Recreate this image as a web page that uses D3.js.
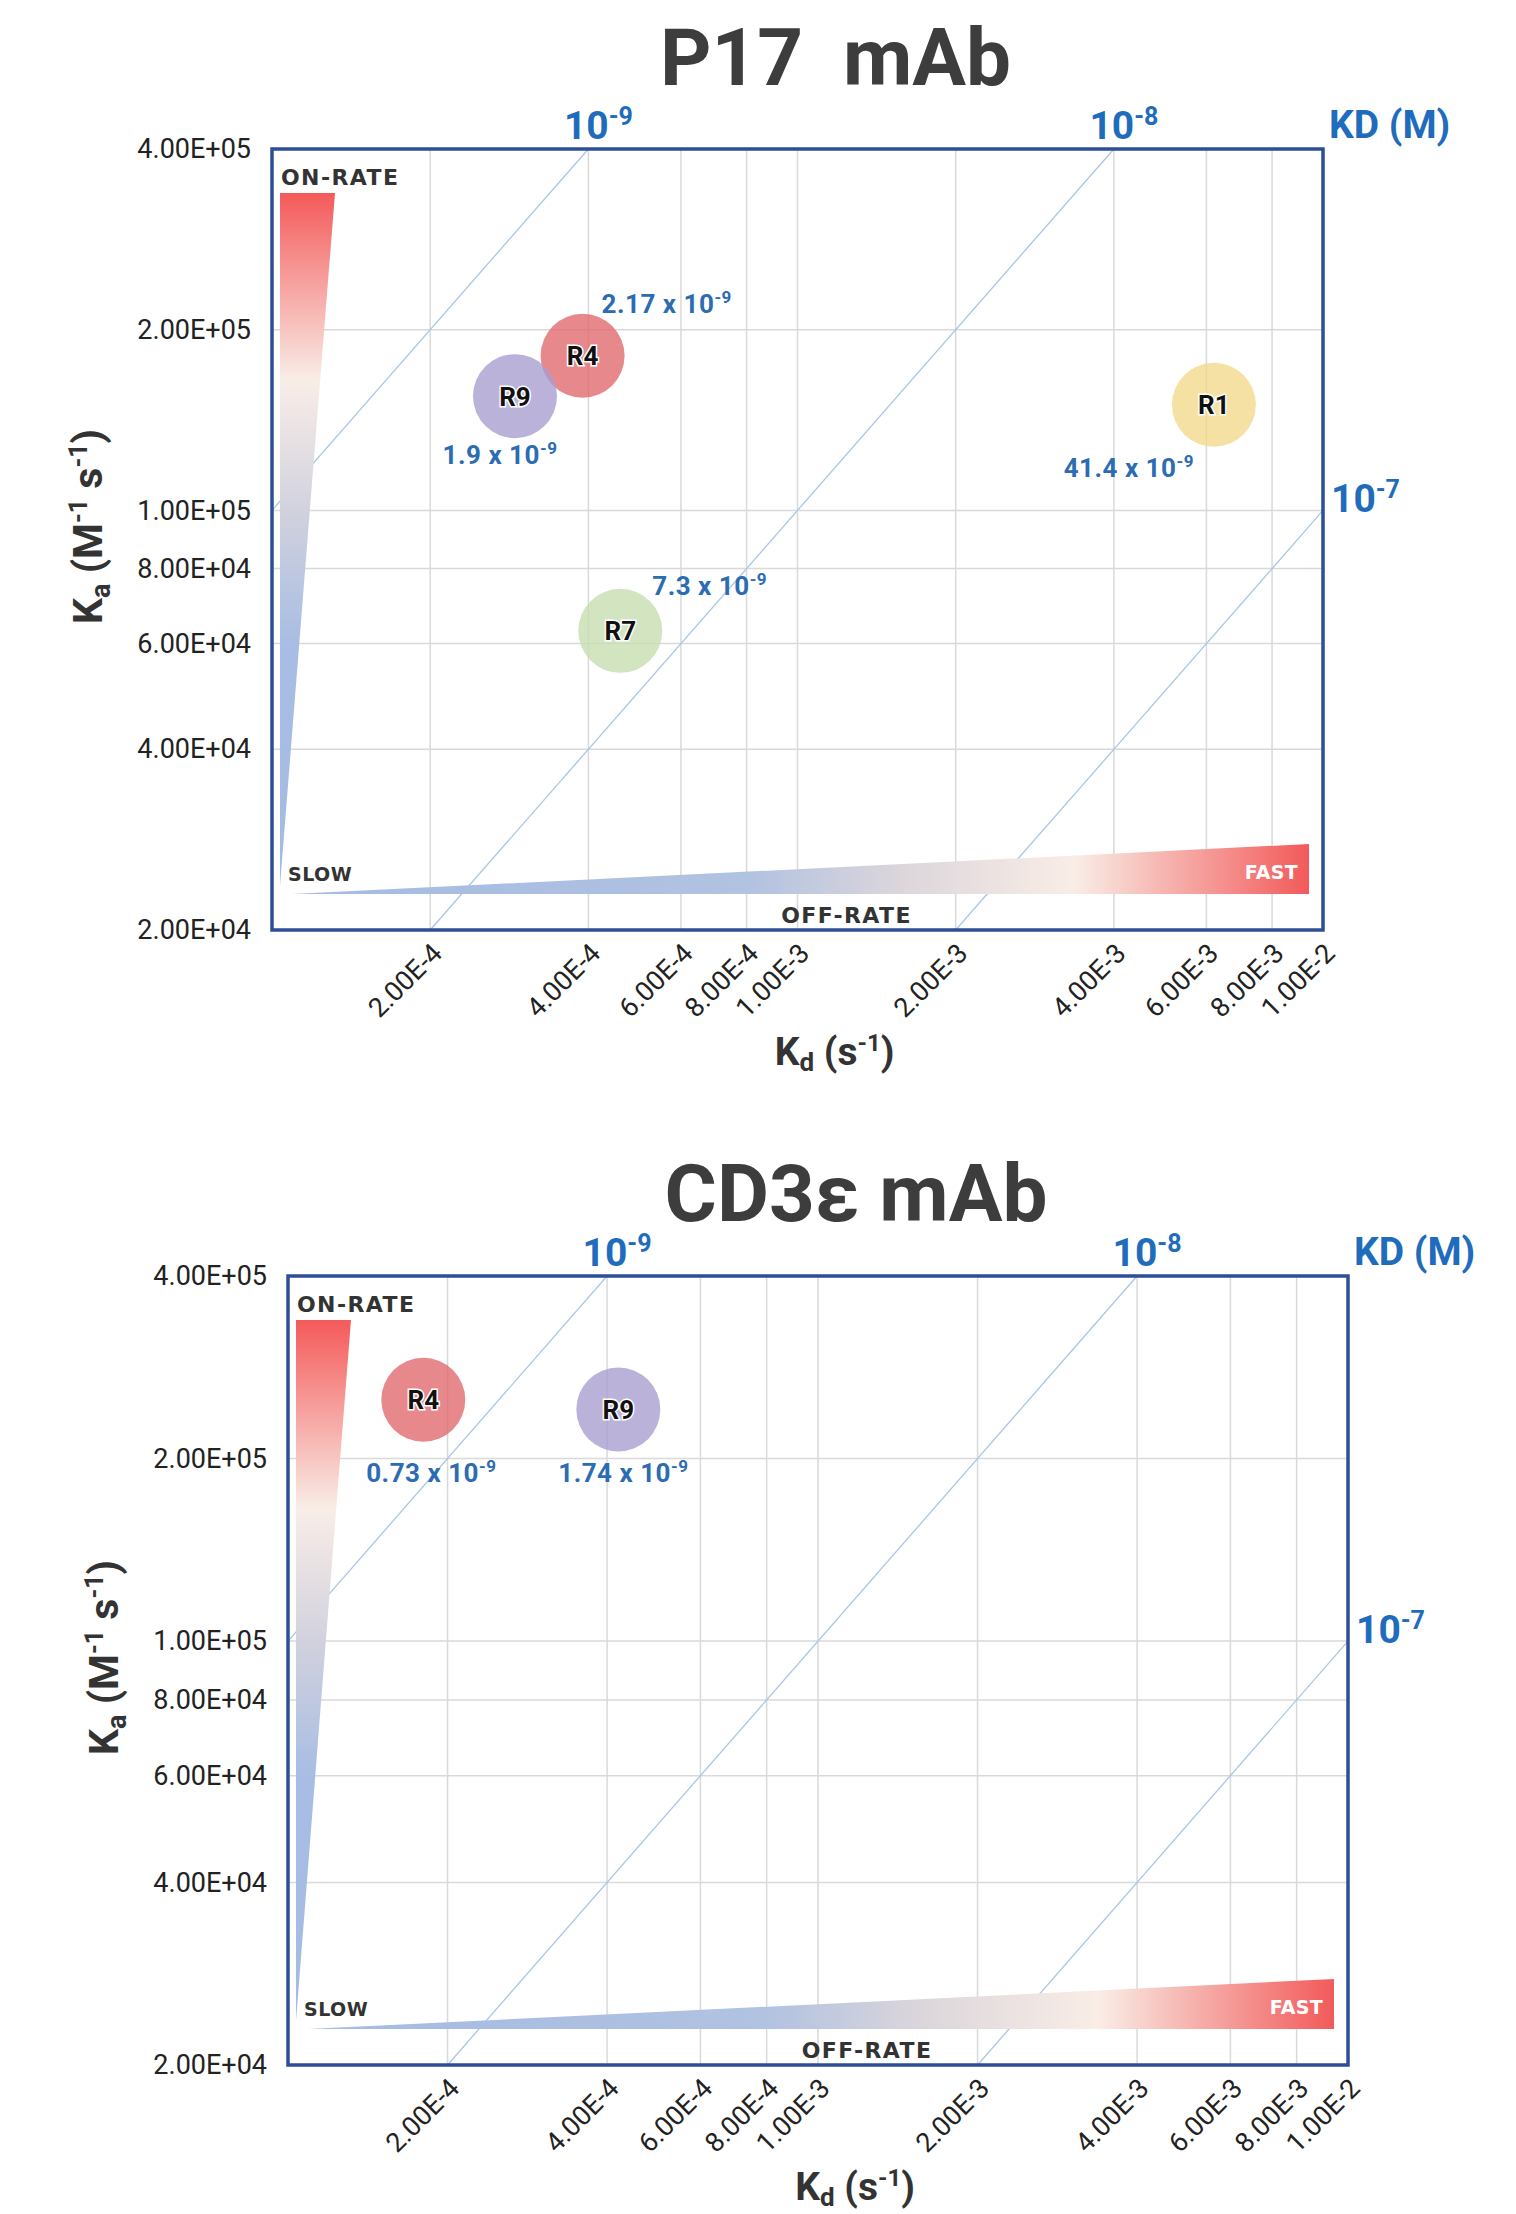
<!DOCTYPE html>
<html>
<head>
<meta charset="utf-8">
<script src="https://cdn.jsdelivr.net/npm/d3@7"></script>
<style>
  body { margin: 0; background: #fff; }
  svg { display: block; }
</style>
</head>
<body>
<svg id="chart" width="1516" height="2214"></svg>
<script>
// shared axes
const kdTicks = [2e-4, 4e-4, 6e-4, 8e-4, 1e-3, 2e-3, 4e-3, 6e-3, 8e-3, 1e-2];
const kdTickLabels = ["2.00E-4", "4.00E-4", "6.00E-4", "8.00E-4", "1.00E-3",
  "2.00E-3", "4.00E-3", "6.00E-3", "8.00E-3", "1.00E-2"];
const kaTicks = [2e4, 4e4, 6e4, 8e4, 1e5, 2e5, 4e5];
const kaTickLabels = ["2.00E+04", "4.00E+04", "6.00E+04", "8.00E+04", "1.00E+05", "2.00E+05", "4.00E+05"];
const kdDomain = [1e-4, 1e-2];
const kaDomain = [2e4, 4e5];
const isoKD = [1e-9, 1e-8, 1e-7];
const isoExp = ["-9", "-8", "-7"];

// P17 mAb
const p17Names = ["R4", "R9", "R7", "R1"];
const p17Kd = [3.9e-4, 2.9e-4, 4.6e-4, 6.2e-3];
const p17Ka = [1.81e5, 1.55e5, 6.3e4, 1.5e5];
const p17KD = ["2.17", "1.9", "7.3", "41.4"];

// CD3e mAb
const cd3Names = ["R4", "R9"];
const cd3Kd = [1.8e-4, 4.2e-4];
const cd3Ka = [2.5e5, 2.41e5];
const cd3KD = ["0.73", "1.74"];

const bubbleColor = { R1: "#f3d88c", R4: "#e0686b", R7: "#c6dcb0", R9: "#a89ccf" };

const charts = [
  {
    title: "P17  mAb", titleY: 85,
    names: p17Names, kd: p17Kd, ka: p17Ka, KD: p17KD,
    box: { left: 272, right: 1323, top: 149, bottom: 930 },
    // label placement relative to bubble centre: [dx, dy, anchor]
    labelPos: [[19, -43, "start"], [-15, 68, "middle"], [32, -36, "start"], [-20, 72, "end"]]
  },
  {
    title: "CD3\u03b5 mAb", titleY: 1221,
    names: cd3Names, kd: cd3Kd, ka: cd3Ka, KD: cd3KD,
    box: { left: 288, right: 1348, top: 1276, bottom: 2065 },
    labelPos: [[8, 82, "middle"], [5, 73, "middle"]]
  }
];

const svg = d3.select("#chart");
svg.append("rect").attr("width", 1516).attr("height", 2214).attr("fill", "#fff");

const defs = svg.append("defs");
const onGrad = defs.append("linearGradient").attr("id", "onGrad")
  .attr("x1", 0).attr("y1", 0).attr("x2", 0).attr("y2", 1);
[[0, "#f45a5a"], [0.27, "#f9ede7"], [0.47, "#cfd0de"], [0.65, "#a8bde3"], [1, "#a4bbe2"]]
  .forEach(([o, c]) => onGrad.append("stop").attr("offset", o).attr("stop-color", c));
const offGrad = defs.append("linearGradient").attr("id", "offGrad")
  .attr("x1", 0).attr("y1", 0).attr("x2", 1).attr("y2", 0);
[[0, "#a4bbe2"], [0.45, "#b2c2e1"], [0.6, "#dcd6db"], [0.77, "#f9ede6"], [1, "#f25a5a"]]
  .forEach(([o, c]) => offGrad.append("stop").attr("offset", o).attr("stop-color", c));

function richText(sel, parts) {
  let prev = 0;
  parts.forEach(p => {
    const shift = p.shift || 0;
    sel.append("tspan")
      .attr("dy", shift - prev)
      .style("font-size", p.size + "px")
      .text(p.t);
    prev = shift;
  });
}

charts.forEach(c => {
  const { left, right, top, bottom } = c.box;
  const x = d3.scaleLog().domain(kdDomain).range([left, right]);
  const y = d3.scaleLog().domain(kaDomain).range([bottom, top]);
  const g = svg.append("g");
  const cx = (left + right) / 2;

  // title
  g.append("text")
    .attr("x", cx + 38).attr("y", c.titleY)
    .attr("text-anchor", "middle")
    .attr("xml:space", "preserve")
    .style("white-space", "pre")
    .style("font-family", "Roboto")
    .style("font-weight", 700)
    .style("font-size", "80px")
    .attr("fill", "#3d3d3d")
    .text(c.title);

  // grid
  g.append("g").selectAll("line").data(kdTicks.slice(0, -1)).join("line")
    .attr("x1", d => x(d)).attr("x2", d => x(d))
    .attr("y1", top).attr("y2", bottom)
    .attr("stroke", "#d9d9d9").attr("stroke-width", 1.5);
  g.append("g").selectAll("line").data(kaTicks.slice(1, -1)).join("line")
    .attr("x1", left).attr("x2", right)
    .attr("y1", d => y(d)).attr("y2", d => y(d))
    .attr("stroke", "#d9d9d9").attr("stroke-width", 1.5);

  // iso-affinity lines KD = kd / ka
  isoKD.forEach((K, i) => {
    const k0 = Math.max(kdDomain[0], K * kaDomain[0]);
    const k1 = Math.min(kdDomain[1], K * kaDomain[1]);
    g.append("line")
      .attr("x1", x(k0)).attr("y1", y(k0 / K))
      .attr("x2", x(k1)).attr("y2", y(k1 / K))
      .attr("stroke", "#a9c6e6").attr("stroke-width", 1.3);
    const lab = g.append("text")
      .style("font-family", "Roboto").style("font-weight", 700)
      .attr("fill", "#1f6cbd");
    if (K * kaDomain[1] <= kdDomain[1] * 1.0001) {
      lab.attr("x", x(K * kaDomain[1]) + 10).attr("y", top - 10).attr("text-anchor", "middle");
    } else {
      lab.attr("x", right + 8).attr("y", y(kdDomain[1] / K) + 2).attr("text-anchor", "start");
    }
    richText(lab, [{ t: "10", size: 39 }, { t: isoExp[i], size: 25, shift: -14 }]);
  });
  g.append("text")
    .attr("x", right + 6).attr("y", top - 11)
    .style("font-family", "Roboto").style("font-weight", 700).style("font-size", "39px")
    .attr("fill", "#1f6cbd")
    .text("KD (M)");

  // on-rate / off-rate wedges
  g.append("polygon")
    .attr("points", [[left + 8, top + 44], [left + 63, top + 44], [left + 8, bottom - 44]].join(" "))
    .attr("fill", "url(#onGrad)");
  g.append("polygon")
    .attr("points", [[left + 20, bottom - 36], [right - 14, bottom - 86], [right - 14, bottom - 36]].join(" "))
    .attr("fill", "url(#offGrad)");

  const tag = (tx, ty, txt, anchor, fill, size, ls) => g.append("text")
    .attr("x", tx).attr("y", ty).attr("text-anchor", anchor)
    .style("font-family", "DejaVu Sans").style("font-weight", 700)
    .style("font-size", size + "px").style("letter-spacing", ls + "px")
    .attr("fill", fill).text(txt);
  tag(left + 9, top + 36, "ON-RATE", "start", "#333", 22, 1.4);
  tag(left + 16, bottom - 49, "SLOW", "start", "#333", 19, 0.5);
  tag(right - 25, bottom - 51, "FAST", "end", "#fff", 19, 0.3);
  tag(cx + 49, bottom - 7, "OFF-RATE", "middle", "#333", 22, 1.4);

  // frame
  g.append("rect")
    .attr("x", left).attr("y", top)
    .attr("width", right - left).attr("height", bottom - top)
    .attr("fill", "none").attr("stroke", "#2d4f96").attr("stroke-width", 3.5);

  // axes
  const yAxis = g.append("g")
    .attr("transform", `translate(${left},0)`)
    .call(d3.axisLeft(y).tickValues(kaTicks).tickFormat((d, i) => kaTickLabels[i]).tickSize(0).tickPadding(21));
  yAxis.select(".domain").remove();
  yAxis.selectAll("text")
    .style("font-family", "Roboto").style("font-size", "27px").attr("fill", "#222");

  const xAxis = g.append("g")
    .attr("transform", `translate(0,${bottom})`)
    .call(d3.axisBottom(x).tickValues(kdTicks).tickFormat((d, i) => kdTickLabels[i]).tickSize(0));
  xAxis.select(".domain").remove();
  xAxis.selectAll("text")
    .attr("y", 0).attr("dy", 0)
    .attr("text-anchor", "end")
    .attr("transform", "translate(13,25) rotate(-45)")
    .style("font-family", "Roboto").style("font-size", "27px").attr("fill", "#222");

  // axis titles
  const yTitle = g.append("text")
    .attr("transform", `translate(${left - 170},${(top + bottom) / 2 - 13}) rotate(-90)`)
    .attr("text-anchor", "middle")
    .style("font-family", "Roboto").style("font-weight", 700)
    .attr("fill", "#333");
  richText(yTitle, [
    { t: "K", size: 41 }, { t: "a", size: 27, shift: 8 }, { t: " (M", size: 41 },
    { t: "-1", size: 25, shift: -15 }, { t: " s", size: 41 }, { t: "-1", size: 25, shift: -15 }, { t: ")", size: 41 }
  ]);
  const xTitle = g.append("text")
    .attr("x", cx + 37).attr("y", bottom + 135)
    .attr("text-anchor", "middle")
    .style("font-family", "Roboto").style("font-weight", 700)
    .attr("fill", "#333");
  richText(xTitle, [
    { t: "K", size: 39 }, { t: "d", size: 26, shift: 6 }, { t: " (s", size: 39 },
    { t: "-1", size: 24, shift: -14 }, { t: ")", size: 39 }
  ]);

  // bubbles
  const pts = c.names.map((n, i) => ({ name: n, kd: c.kd[i], ka: c.ka[i], KD: c.KD[i], pos: c.labelPos[i] }));
  const b = g.append("g").selectAll("g").data(pts).join("g")
    .attr("transform", d => `translate(${x(d.kd)},${y(d.ka)})`);
  b.append("circle")
    .attr("r", 42)
    .attr("fill", d => bubbleColor[d.name])
    .attr("fill-opacity", 0.78);
  b.append("text")
    .attr("text-anchor", "middle").attr("dy", "0.36em")
    .style("font-family", "Roboto").style("font-weight", 700).style("font-size", "26px")
    .attr("fill", "#111")
    .attr("stroke", "#fff").attr("stroke-width", 3).style("paint-order", "stroke")
    .text(d => d.name);
  b.each(function (d) {
    const t = d3.select(this).append("text")
      .attr("x", d.pos[0]).attr("y", d.pos[1]).attr("text-anchor", d.pos[2])
      .style("font-family", "Roboto").style("font-weight", 700)
      .style("letter-spacing", "0.5px")
      .attr("fill", "#2b6cb3");
    richText(t, [{ t: d.KD + " x 10", size: 26 }, { t: "-9", size: 17, shift: -10 }]);
  });
});
</script>
</body>
</html>
